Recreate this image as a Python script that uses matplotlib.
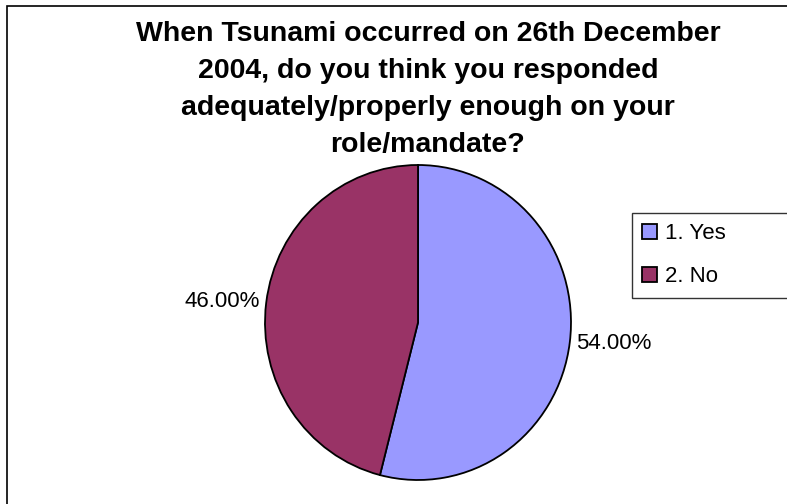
import matplotlib.pyplot as plt
from matplotlib.patches import Rectangle

# Data
categories = ['1. Yes', '2. No']
shares = [54.0, 46.0]
colors = ['#9999FF', '#993366']
title = ('When Tsunami occurred on 26th December\n'
         '2004, do you think you responded\n'
         'adequately/properly enough on your\n'
         'role/mandate?')

plt.rcParams['font.family'] = ['Liberation Sans', 'DejaVu Sans']

W, H = 787, 504
fig = plt.figure(figsize=(W / 100, H / 100), dpi=100)
fig.patch.set_facecolor('white')

# pie area (pixel box of the ellipse)
cx, cy, rx, ry = 418, 322.5, 153, 157.5
ax = fig.add_axes([(cx - rx) / W, 1 - (cy + ry) / H, 2 * rx / W, 2 * ry / H])

pct_labels = [f'{v:.2f}%' for v in shares]
wedges, texts = ax.pie(shares, colors=colors, startangle=90, counterclock=False,
                       labels=pct_labels, labeldistance=1.04,
                       wedgeprops=dict(edgecolor='black', linewidth=1.3),
                       textprops=dict(fontsize=16, color='black'))
ax.set_aspect('auto')
ax.set_xlim(-1, 1)
ax.set_ylim(-1, 1)
ax.axis('off')

# title
fig.text(428 / W, 1 - 21 / H, title, ha='center', va='top', fontsize=20.5,
         fontweight='bold', linespacing=1.55)

# legend, frame runs off the right edge like the original
leg = fig.legend(wedges, categories, loc='upper left',
                 bbox_to_anchor=(632 / W, 1 - 213 / H, 0.3, 0.0), mode='expand',
                 borderaxespad=0, fontsize=16, frameon=True, fancybox=False,
                 borderpad=0.47, labelspacing=0.98, handlelength=0.64,
                 handleheight=0.64, handletextpad=0.36)
leg.get_frame().set_edgecolor('black')
leg.get_frame().set_linewidth(1.0)

# outer chart border (cut off at right and bottom)
fig.patches.append(Rectangle((7 / W, -0.1), 1.2, 1 - 6 / H + 0.1,
                             transform=fig.transFigure, fill=False,
                             edgecolor='black', linewidth=1.2))

fig.savefig('out.png', dpi=100)
